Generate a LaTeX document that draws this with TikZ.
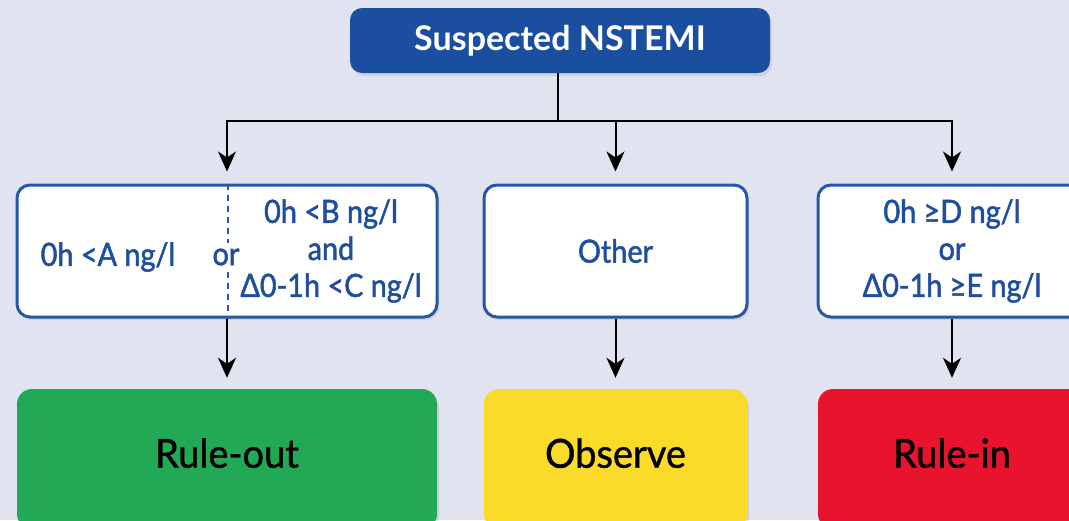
\documentclass[tikz,border=0pt]{standalone}
\usepackage{fontspec}
\setmainfont{Lato}
\newfontfamily\critfont[FakeStretch=0.9, FakeBold=1.6]{Lato}
\newfontfamily\outfont[FakeStretch=0.95, FakeBold=1.0]{Lato}
\usetikzlibrary{arrows.meta,shadows,calc}
\definecolor{bg}{HTML}{E1E3F1}
\definecolor{navy}{HTML}{1A4E9F}
\definecolor{bord}{HTML}{2657A6}
\definecolor{txtblue}{HTML}{1F4E9E}
\definecolor{okgreen}{HTML}{21A956}
\definecolor{warnyellow}{HTML}{FBDB2A}
\definecolor{alertred}{HTML}{E8132C}
\tikzset{
  shad/.style={drop shadow={opacity=0.18, shadow xshift=2pt, shadow yshift=-3pt}},
  topbox/.style={shad, fill=navy, rounded corners=12pt, minimum width=420pt, minimum height=65pt,
    text=white, font=\fontsize{34}{38}\selectfont\bfseries, inner sep=0pt},
  critbox/.style={shad, draw=bord, line width=3pt, fill=white, rounded corners=13pt,
    minimum height=132pt, inner sep=0pt},
  crittext/.style={text=txtblue, font=\critfont\fontsize{32}{37}\selectfont, align=center, inner sep=0pt},
  outbox/.style={shad, rounded corners=15pt, minimum height=140pt, inner sep=0pt,
    font=\outfont\fontsize{40}{44}\selectfont, text=black, text depth=12pt},
  arr/.style={line width=2pt, -{Stealth[length=20pt,width=18pt,inset=6pt]}},
  conn/.style={line width=2pt},
}
\begin{document}
\begin{tikzpicture}[x=1pt,y=-1pt]
\useasboundingbox (0,0) rectangle (1069,520);
\fill[bg] (0,0) rectangle (1069,520);
\clip (0,0) rectangle (1069,520);

% top
\node[topbox] (top) at (560,40.5) {Suspected NSTEMI};

% criteria boxes
\node[critbox, minimum width=420pt] (left) at (227,251) {};
\node[critbox, minimum width=263pt] (mid) at (615.5,251) {};
\node[critbox, minimum width=268pt] (right) at (952,251) {};

% left box contents
\coordinate (sep) at (228,251);
\draw[bord, line width=2pt, dash pattern=on 6pt off 5pt] (left.north -| sep) -- (left.south -| sep);
\node[crittext, fill=white, inner ysep=6pt] (or) at (226,257) {or};
\node[crittext] (ruleA) at (108,257) {0h <A ng/l};
\node[crittext] (ruleBC) at (331,251) {0h <B ng/l\\and\\Δ0-1h <C ng/l};

\node[crittext] (other) at (mid.center) {Other};
\node[crittext] (ruleDE) at (952,251) {0h ≥D ng/l\\or\\Δ0-1h ≥E ng/l};

% outcome boxes
\node[outbox, fill=okgreen, minimum width=420pt] (ruleout) at (227,459) {Rule-out};
\node[outbox, fill=warnyellow, minimum width=263pt] (observe) at (615.5,459) {Observe};
\node[outbox, fill=alertred, minimum width=268pt] (rulein) at (952,459) {Rule-in};

% connectors
\coordinate (bus) at (558,121);
\draw[conn] (top.south -| bus) -- (bus);
\draw[arr, shorten >=12pt] (bus) -| (left.north);
\draw[arr, shorten >=12pt] (bus) -| (mid.north);
\draw[arr, shorten >=12pt] (bus) -| (right.north);

\draw[arr, shorten >=11pt] (left.south) -- (ruleout.north);
\draw[arr, shorten >=11pt] (mid.south) -- (observe.north);
\draw[arr, shorten >=11pt] (right.south) -- (rulein.north);
\end{tikzpicture}
\end{document}
